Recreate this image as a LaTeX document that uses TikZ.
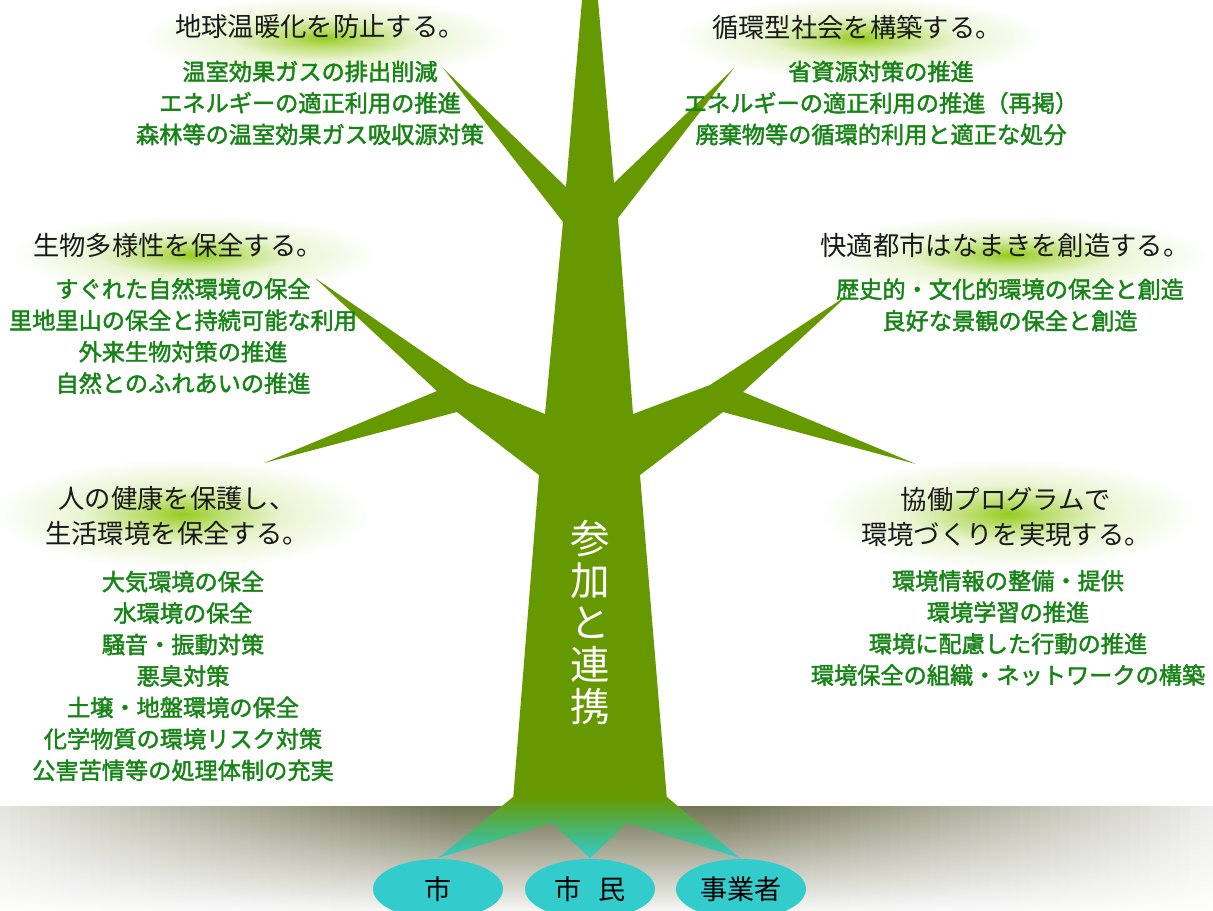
\documentclass[tikz,border=0pt]{standalone}
\usepackage{fontspec}
\setmainfont{Noto Sans CJK JP}
\newfontfamily\itemfont[FakeBold=2]{Noto Sans CJK JP}
\usetikzlibrary{shapes.geometric}

\definecolor{treegreen}{RGB}{102,153,0}
\definecolor{rootteal}{RGB}{51,204,204}
\definecolor{itemgreen}{RGB}{24,132,24}
\definecolor{glowgreen}{RGB}{150,204,30}
\definecolor{groundgray}{RGB}{116,116,86}

\pgfdeclareradialshading{headglow}{\pgfpointorigin}{color(0bp)=(glowgreen); color(5bp)=(glowgreen!65!white); color(13bp)=(glowgreen!20!white); color(25bp)=(white); color(50bp)=(white)}

\begin{document}
\begin{tikzpicture}[x=0.2mm,y=-0.2mm,
  heading/.style={inner sep=0pt,align=center,text=black!90,font=\fontsize{15pt}{19.4pt}\selectfont},
  item/.style={inner sep=0pt,align=center,text=itemgreen,font=\itemfont\fontsize{13.2pt}{17.9pt}\selectfont},
  actor/.style={ellipse,fill=rootteal,inner sep=0pt,minimum width=26mm,minimum height=12mm,font=\fontsize{15.4pt}{18pt}\selectfont},
  glow/.style={shading=headglow}]
\useasboundingbox (0,0) rectangle (1213,910);

% ground shadow, darker under the trunk
\foreach \i in {0,...,121}{
  \pgfmathsetmacro\d{abs(10*\i+5-590)/610}
  \pgfmathsetmacro\p{min(100,100*(1.25-1.1*\d))}
  \pgfmathsetmacro\q{0.07*\p}
  \shade[top color=groundgray!\p!white,bottom color=groundgray!\q!white]
    (10*\i,806) rectangle (10*\i+10.6,910);
}

% glow behind the headings
\shade[glow] (325,38) ellipse (185 and 42);
\shade[glow] (860,38) ellipse (185 and 42);
\shade[glow] (195,255) ellipse (185 and 40);
\shade[glow] (1010,255) ellipse (200 and 40);
\shade[glow] (182,514) ellipse (190 and 56);
\shade[glow] (1008,514) ellipse (190 and 56);

% tree
\fill[treegreen] (582,0) -- (566,187) -- (443,68) -- (563,222) -- (545,414) -- (468,383)
  -- (315,278) -- (437,391) -- (264,463) -- (457,412) -- (539,475) -- (513,800)
  -- (667,800) -- (640,475) -- (723,412) -- (916,464) -- (743,392) -- (848,295)
  -- (710,385) -- (633,414) -- (618,218) -- (734,68) -- (614,183) -- (598,0) -- cycle;
\shade[top color=treegreen,bottom color=rootteal] (513,797) -- (438,858) -- (552,823)
  -- (590,858) -- (627,823) -- (740,858) -- (667,797) -- cycle;

\node[text=white,align=center,inner sep=0pt,font=\fontsize{22.5pt}{23.9pt}\selectfont] (trunk) at (590,623) {参\\加\\と\\連\\携};

\node[heading] (warming) at (320,27) {地球温暖化を防止する。};
\node[item] (warmingitems) at (310,103) {温室効果ガスの排出削減\\エネルギーの適正利用の推進\\森林等の温室効果ガス吸収源対策};

\node[heading] (cycle) at (857,27) {循環型社会を構築する。};
\node[item] (cycleitems) at (881,103) {省資源対策の推進\\エネルギーの適正利用の推進（再掲）\\廃棄物等の循環的利用と適正な処分};

\node[heading] (nature) at (178,245) {生物多様性を保全する。};
\node[item] (natureitems) at (183,336) {すぐれた自然環境の保全\\里地里山の保全と持続可能な利用\\外来生物対策の推進\\自然とのふれあいの推進};

\node[heading] (city) at (1005,245) {快適都市はなまきを創造する。};
\node[item] (cityitems) at (1010,305) {歴史的・文化的環境の保全と創造\\良好な景観の保全と創造};

\node[heading] (health) at (177,516) {人の健康を保護し、\\生活環境を保全する。};
\node[item] (healthitems) at (183,676) {大気環境の保全\\水環境の保全\\騒音・振動対策\\悪臭対策\\土壌・地盤環境の保全\\化学物質の環境リスク対策\\公害苦情等の処理体制の充実};

\node[heading] (coop) at (1006,517) {協働プログラムで\\環境づくりを実現する。};
\node[item] (coopitems) at (1008,628) {環境情報の整備・提供\\環境学習の推進\\環境に配慮した行動の推進\\環境保全の組織・ネットワークの構築};

\node[actor] (shi) at (438,889) {市};
\node[actor] (shimin) at (590,889) {市\hspace{.6em}民};
\node[actor] (jigyo) at (741,889) {事業者};
\end{tikzpicture}
\end{document}
